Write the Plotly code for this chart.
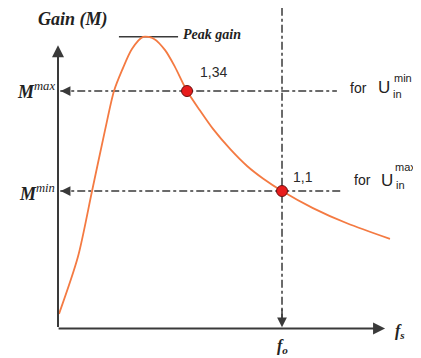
import plotly.graph_objects as go

# gain curve (normalised switching frequency f/fo, gain M)
freq = [0.0045, 0.089, 0.152, 0.21, 0.25, 0.286, 0.33, 0.38, 0.429, 0.478, 0.522,
        0.576, 0.634, 0.692, 0.768, 0.844, 0.915, 1.0, 1.138, 1.29, 1.482]
gain = [0.805, 0.942, 1.10, 1.246, 1.34, 1.39, 1.441, 1.47, 1.465, 1.438, 1.398,
        1.34, 1.293, 1.249, 1.201, 1.16, 1.13, 1.10, 1.059, 1.0225, 0.985]

# operating points
op_freq = [0.576, 1.0]
op_gain = [1.34, 1.1]
op_labels = ["1,34", "1,1"]

peak_gain = 1.47
f_o = 1.0
axis_gain = 0.77
y_axis_top = 1.45
x_axis_end = 1.46
line_end = [1.245, 1.26]

# the page body adds an 8px offset, so the figure is a bit smaller than the window
OFF = 8
W, H = 421 - OFF, 358 - OFF
axis_col = "#3a3a3a"
dash_style = "8px,3px,3px,3px"

fig = go.Figure()

# horizontal dashed lines for Mmax / Mmin
for g, xe in zip(op_gain, line_end):
    fig.add_trace(go.Scatter(
        x=[0.01, xe], y=[g, g], mode="lines",
        line=dict(color=axis_col, width=1.5, dash=dash_style),
        hoverinfo="skip", showlegend=False
    ))

# vertical dashed line at fo
fig.add_trace(go.Scatter(
    x=[f_o, f_o], y=[1.54, axis_gain + 0.01], mode="lines",
    line=dict(color=axis_col, width=1.5, dash=dash_style),
    hoverinfo="skip", showlegend=False
))

# peak gain marker line
fig.add_trace(go.Scatter(
    x=[0.272, 0.536], y=[peak_gain, peak_gain], mode="lines",
    line=dict(color=axis_col, width=1.5),
    hoverinfo="skip", showlegend=False
))

fig.add_trace(go.Scatter(
    x=freq, y=gain, mode="lines",
    line=dict(color="#f47a42", width=1.8, shape="spline", smoothing=0.8),
    hoverinfo="skip", showlegend=False
))

fig.add_trace(go.Scatter(
    x=op_freq, y=op_gain, mode="markers",
    marker=dict(color="#e81c1c", size=11, line=dict(color="#6b1010", width=1)),
    hoverinfo="skip", showlegend=False
))

annotations = []

# axes with arrows
annotations.append(dict(x=0, y=y_axis_top, ax=0, ay=axis_gain, xref="x", yref="y",
                        axref="x", ayref="y", showarrow=True, arrowhead=2,
                        arrowsize=1.2, arrowwidth=2, arrowcolor=axis_col, text=""))
annotations.append(dict(x=x_axis_end, y=axis_gain, ax=-0.004, ay=axis_gain, xref="x", yref="y",
                        axref="x", ayref="y", showarrow=True, arrowhead=2,
                        arrowsize=1.2, arrowwidth=2, arrowcolor=axis_col, text=""))
# arrowheads on dashed lines
for g in op_gain:
    annotations.append(dict(x=0.012, y=g, ax=0.06, ay=g, xref="x", yref="y",
                            axref="x", ayref="y", showarrow=True, arrowhead=2,
                            arrowsize=1.3, arrowwidth=1.5, arrowcolor=axis_col, text=""))
annotations.append(dict(x=f_o, y=axis_gain + 0.003, ax=f_o, ay=axis_gain + 0.05, xref="x", yref="y",
                        axref="x", ayref="y", showarrow=True, arrowhead=2,
                        arrowsize=1.3, arrowwidth=1.5, arrowcolor=axis_col, text=""))

# point labels
for f, g, t in zip(op_freq, op_gain, op_labels):
    annotations.append(dict(x=f, y=g, xref="x", yref="y", text=t, showarrow=False,
                            xanchor="left", yanchor="middle", xshift=11 if t == "1,34" else 9,
                            yshift=19 if t == "1,34" else 14,
                            font=dict(family="Liberation Sans, Arial", size=14, color="#2a2a2a")))


def txt(px, py, text, size, family="Liberation Serif", xanchor="left", color="#222"):
    annotations.append(dict(x=(px - OFF) / W, y=1 - (py - OFF) / H, xref="paper", yref="paper",
                            text=text, showarrow=False, xanchor=xanchor, yanchor="middle",
                            font=dict(family=family, size=size, color=color)))


txt(36, 20, "<b><i>Gain (M)</i></b>", 18)
txt(181, 34, "<b><i>Peak gain</i></b>", 14)
txt(57, 90, "<b><i>M</i></b><i><sup>max</sup></i>", 18, xanchor="right")
txt(57, 192, "<b><i>M</i></b><i><sup>min</sup></i>", 18, xanchor="right")
txt(275, 346, "<b><i>f<sub>o</sub></i></b>", 16)
txt(393, 331, "<b><i>f<sub>s</sub></i></b>", 16)

sans = "Liberation Sans, Arial"
txt(348, 88, "for", 14, sans)
txt(376, 88, "U", 17, sans)
txt(392, 78, "min", 11, sans)
txt(391, 94, "in", 11, sans)
txt(352, 180, "for", 14, sans)
txt(379, 180, "U", 17, sans)
txt(393, 167, "max", 11, sans)
txt(394, 185, "in", 11, sans)

fig.update_layout(
    width=W, height=H,
    margin=dict(l=0, r=0, t=0, b=0),
    paper_bgcolor="white", plot_bgcolor="white",
    xaxis=dict(range=[(OFF - 58) / 224, 1.6205], visible=False, fixedrange=True),
    yaxis=dict(range=[0.6992, 1.1 + (191 - OFF) * 0.0024], visible=False, fixedrange=True),
    annotations=annotations,
    showlegend=False
)

fig.write_html("out.html")
